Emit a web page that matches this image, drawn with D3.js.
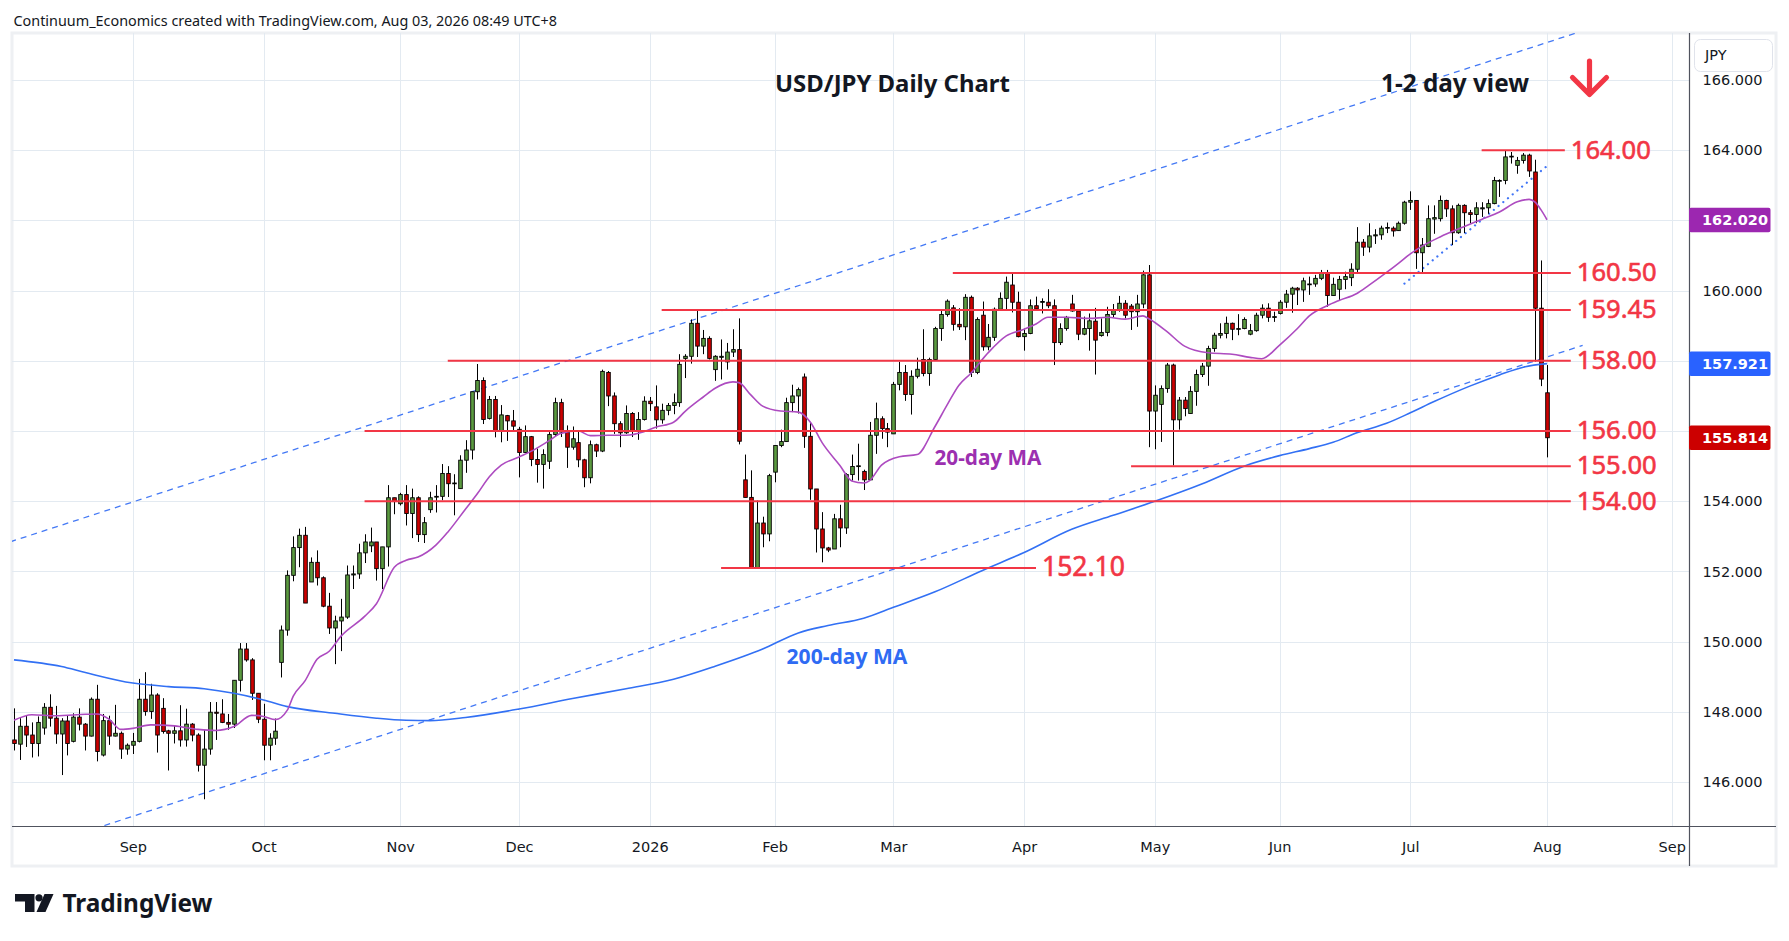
<!DOCTYPE html>
<html><head><meta charset="utf-8">
<script src="https://cdn.jsdelivr.net/npm/d3@7"></script>
<style>
html,body{margin:0;padding:0;background:#fff;}
svg{display:block;}
</style></head><body>
<svg id="chart" width="1789" height="941"></svg>
<script>
// ---------------- DATA ----------------
const firstDay = "2025-08-04";
const lastAxisDay = "2026-09-30";
const closedDays = ["12-25", "01-01"];

const open = [
147.2,147.08,147.59,147.34,147.1,147.54,148.13,147.82,147.37,147.74,
147.16,147.85,147.65,147.31,148.36,146.77,147.75,147.31,147.39,146.94,
147.05,147.16,148.36,148.01,148.48,148.1,147.46,147.39,147.46,147.2,
147.65,147.34,146.48,146.94,147.99,147.94,147.7,147.65,148.9,149.79,
149.48,148.53,147.79,147.05,147.25,149.41,150.33,151.89,152.68,153.03,
151.7,152.26,151.82,151.01,150.39,150.59,150.7,151.9,151.93,152.53,
152.73,152.84,152.08,152.7,154.1,153.93,154.19,153.65,154.1,153.05,
153.76,154.12,154.14,154.79,154.5,154.36,155.17,155.46,157.12,157.44,
156.36,156.9,156.0,156.44,156.29,156.05,155.39,155.84,155.19,155.05,
155.14,155.9,156.81,155.97,155.54,155.67,155.18,154.67,155.61,155.43,
157.67,157.0,156.21,155.95,156.5,156.0,156.33,156.85,156.69,156.32,
156.59,156.73,156.81,158.07,158.13,159.07,158.42,158.64,157.75,158.1,
157.97,158.25,158.32,154.61,154.11,152.11,153.38,153.07,154.83,155.59,
155.7,156.81,157.0,157.54,155.85,154.35,153.21,152.67,152.64,153.5,
153.24,154.76,154.99,154.85,154.61,155.88,156.35,156.07,155.92,157.33,
157.67,157.04,157.56,158.04,157.64,158.04,158.92,159.32,159.51,159.04,
158.97,159.81,157.67,159.3,158.4,158.67,159.47,159.78,160.16,159.67,
158.69,158.78,159.57,159.67,159.67,159.57,158.52,158.92,159.62,159.42,
158.76,158.92,159.13,158.72,158.81,159.32,159.45,159.64,159.56,159.4,
159.62,160.45,156.57,156.76,157.21,157.88,156.32,156.88,156.5,157.13,
157.61,157.85,158.35,158.73,158.78,159.07,158.9,158.92,158.76,158.86,
159.3,159.5,159.24,159.35,159.67,159.9,160.07,160.02,160.17,160.19,
160.35,160.51,159.86,160.04,160.32,160.37,160.61,161.38,161.24,161.56,
161.59,161.78,161.78,161.71,161.92,162.52,162.57,161.08,161.26,162.04,
162.05,162.57,162.33,161.65,162.43,162.22,162.17,162.33,162.36,162.48,
163.12,163.14,163.81,163.57,163.71,163.86,163.38,159.5,157.09];

const high = [
148.1,147.82,147.9,147.7,147.87,148.25,148.5,148.17,147.82,147.9,
147.96,148.1,147.68,148.41,148.77,147.94,147.89,148.2,147.44,147.1,
147.4,148.94,149.13,148.8,148.53,148.39,147.49,147.6,148.19,148.09,
147.68,147.39,147.49,148.28,148.28,148.36,147.94,148.9,149.96,149.96,
149.53,148.53,148.23,147.39,147.81,150.46,152.03,153.0,153.22,153.27,
152.4,152.6,151.86,151.39,150.74,151.22,152.17,152.17,152.79,153.06,
153.25,152.84,152.7,154.46,154.1,154.24,154.46,154.36,154.14,153.55,
154.27,154.46,155.06,155.0,154.77,155.31,155.74,157.12,157.91,157.53,
157.0,157.0,156.74,156.46,156.6,156.12,156.16,155.86,155.5,155.48,
155.97,156.95,156.92,156.16,156.13,155.99,155.21,155.73,155.64,157.75,
157.71,157.1,156.28,156.73,156.54,156.54,156.99,156.97,157.3,156.78,
156.8,157.07,158.19,158.19,159.18,159.45,158.88,158.7,158.16,158.61,
158.51,158.9,159.21,155.33,154.88,154.02,153.56,154.78,155.59,156.04,
156.95,157.32,157.24,157.64,156.26,154.35,153.69,152.7,153.64,153.9,
154.8,155.33,155.64,154.9,156.26,156.81,156.42,156.23,157.4,157.97,
157.88,157.73,158.09,158.9,158.09,158.97,159.45,159.75,159.59,159.5,
159.9,159.86,159.24,159.69,159.05,159.52,159.95,160.4,160.5,159.97,
158.92,159.75,159.83,159.78,160.04,159.75,159.07,159.28,159.88,159.45,
159.26,159.35,159.51,159.21,159.54,159.62,159.85,159.73,159.62,159.88,
160.57,160.73,157.3,157.3,157.94,157.92,156.97,156.97,157.28,157.75,
157.94,158.43,158.8,159.07,159.26,159.09,159.33,159.24,159.05,159.37,
159.61,159.64,159.4,159.73,160.02,160.11,160.1,160.37,160.4,160.45,
160.59,160.59,160.37,160.42,160.54,160.78,161.81,161.47,161.92,161.75,
161.85,161.94,161.83,161.97,162.56,162.83,162.57,161.5,162.43,162.43,
162.71,162.59,162.43,162.48,162.46,162.3,162.52,162.52,162.6,163.24,
163.17,163.98,163.95,163.81,163.92,163.9,163.73,160.86,157.88];

const low = [
146.9,146.63,147.0,146.7,146.73,147.35,147.58,147.09,146.2,146.76,
147.13,147.47,146.9,147.3,146.59,146.73,147.06,147.3,146.66,146.78,
146.8,147.13,147.89,147.8,146.84,147.38,146.33,147.1,147.01,147.01,
147.16,146.3,145.51,146.78,147.2,147.68,147.49,147.54,148.58,149.43,
148.34,147.68,146.62,146.62,147.06,148.98,150.17,151.72,152.12,151.1,
151.7,151.6,150.98,150.22,149.36,149.73,150.65,151.5,151.79,152.24,
152.55,151.74,151.5,152.14,153.63,153.88,153.31,152.95,152.84,152.81,
153.67,153.68,154.03,154.12,153.6,154.36,154.81,155.19,156.9,156.2,
156.33,155.82,155.68,155.72,155.98,154.68,155.38,155.0,154.53,154.36,
154.92,155.85,155.83,154.95,155.47,154.97,154.4,154.51,155.26,155.4,
156.71,155.92,155.54,155.92,155.83,155.75,156.3,156.57,156.07,156.21,
156.45,156.48,156.69,157.51,157.92,158.11,158.19,158.04,157.43,157.47,
157.75,158.11,155.62,154.11,152.09,152.11,152.69,152.86,154.54,155.54,
155.69,156.54,156.5,155.52,154.04,152.54,152.26,152.55,152.64,152.69,
153.07,154.59,154.59,154.32,154.61,155.35,155.78,155.54,155.92,157.16,
156.86,156.47,157.5,157.56,157.29,158.02,158.57,159.26,158.86,158.88,
158.59,157.54,157.62,158.29,158.3,158.57,159.45,159.45,159.38,158.67,
158.29,158.76,159.45,159.35,159.5,157.88,158.45,158.86,159.4,158.59,
158.73,158.29,157.61,158.69,158.7,159.24,159.4,159.21,158.88,158.97,
159.5,155.54,155.48,155.69,157.09,155.02,156.04,156.42,156.5,156.72,
157.54,157.29,158.26,158.64,158.64,158.59,158.73,158.9,158.73,158.83,
159.21,159.11,159.11,159.32,159.51,159.37,159.59,159.68,159.88,160.11,
160.3,159.54,159.85,159.73,160.04,160.13,160.5,160.99,161.09,161.33,
161.45,161.64,161.54,161.7,161.88,162.3,160.62,160.48,161.24,161.62,
161.97,162.1,161.3,161.62,161.64,161.92,161.92,162.1,162.19,162.46,
162.67,163.03,163.62,163.33,163.62,163.24,157.98,157.28,155.25];

const close = [
147.1,147.59,147.34,147.1,147.7,148.13,147.82,147.37,147.74,147.1,
147.85,147.65,147.31,148.36,146.87,147.75,147.31,147.39,146.94,147.05,
147.16,148.36,148.01,148.48,147.34,147.44,147.39,147.46,147.2,147.65,
147.34,146.48,146.94,147.99,147.96,147.7,147.65,148.9,149.79,149.48,
148.53,147.79,147.05,147.25,147.45,150.33,151.89,152.68,153.03,151.1,
152.26,151.82,151.01,150.39,150.59,150.7,151.9,151.93,152.53,152.84,
152.84,152.08,152.7,154.1,153.99,154.19,153.65,154.1,153.05,153.39,
154.1,154.14,154.79,154.5,154.52,155.17,155.46,157.12,157.44,156.33,
156.9,156.0,156.46,156.29,156.14,155.39,155.84,155.19,155.05,155.33,
155.9,156.81,155.97,155.54,155.78,155.18,154.67,155.61,155.43,157.7,
157.0,156.21,155.95,156.5,156.0,156.33,156.85,156.78,156.32,156.59,
156.73,156.81,157.9,158.13,159.07,158.42,158.64,158.07,158.13,158.13,
158.25,158.32,155.71,154.11,152.11,153.38,153.07,154.73,155.59,155.7,
156.81,157.0,157.18,155.85,154.35,153.21,152.67,152.61,153.5,153.24,
154.76,154.99,155.01,154.61,155.88,156.35,156.07,155.97,157.33,157.67,
157.04,157.56,157.76,157.64,158.04,158.92,159.32,159.7,159.04,158.97,
159.81,157.67,159.18,158.4,158.67,159.47,159.78,160.24,159.67,158.69,
158.78,159.57,159.48,159.69,159.57,158.52,158.92,159.24,159.42,158.76,
158.92,159.14,158.59,158.81,159.32,159.45,159.64,159.3,159.4,159.62,
160.45,156.57,157.02,157.21,157.88,156.32,156.88,156.64,157.13,157.61,
157.85,158.35,158.73,158.78,159.07,158.9,158.92,159.18,158.86,159.3,
159.5,159.24,159.26,159.67,159.9,160.07,160.02,160.28,160.19,160.35,
160.51,159.86,160.18,160.32,160.4,160.61,161.38,161.24,161.56,161.59,
161.78,161.8,161.7,161.92,162.52,162.57,161.08,161.3,162.05,162.08,
162.57,162.33,161.65,162.43,162.22,162.17,162.36,162.36,162.48,163.14,
163.14,163.81,163.83,163.71,163.86,163.41,159.5,157.48,155.81];

// 20-day MA: [bar number, value]
const ma20 = [[0,147.76],[3,147.92],[7,147.89],[12,147.93],[14,147.94],[16,147.79],[18,147.5],[20,147.53],
[23,147.63],[27,147.6],[31,147.5],[34,147.47],[37,147.58],[40,147.9],[42,147.87],[44,147.78],[46,148.05],
[47,148.45],[49,148.89],[51,149.5],[53,149.72],[55,150.15],[59,150.72],[61,151.08],[64,152.12],[66,152.32],
[68,152.41],[71,152.75],[73,153.12],[76,153.78],[78,154.22],[80,154.7],[82,155.03],[85,155.26],[87,155.42],
[90,155.72],[92,155.93],[95,156.0],[97,155.87],[100,155.88],[103,155.88],[106,155.98],[108,156.11],[111,156.25],
[113,156.57],[116,156.97],[118,157.22],[121,157.4],[122,157.38],[124,157.03],[126,156.71],[129,156.57],
[132,156.54],[134,156.26],[136,155.67],[139,155.02],[141,154.58],[143,154.52],[144,154.59],[146,155.03],
[149,155.27],[152,155.33],[155,156.13],[157,156.73],[159,157.3],[161,157.64],[164,158.24],[167,158.71],
[170,158.9],[172,159.05],[174,159.24],[177,159.24],[181,159.21],[184,159.24],[187,159.19],[190,159.28],
[191,159.2],[194,158.84],[197,158.42],[201,158.23],[205,158.19],[208,158.1],[210,158.06],[213,158.45],
[216,158.92],[218,159.28],[221,159.57],[223,159.72],[226,159.92],[228,160.15],[231,160.52],[233,160.78],
[235,161.05],[237,161.27],[240,161.53],[244,161.82],[247,162.03],[250,162.24],[253,162.53],[255,162.6],
[256,162.52],[257,162.3],[258,162.02]];

// 200-day MA: [bar number, value]
const ma200 = [[0,149.48],[8,149.29],[12,149.12],[20,148.82],[26,148.72],[32,148.66],[37,148.53],[42,148.34],
[46,148.15],[54,147.96],[61,147.82],[66,147.76],[70,147.75],[76,147.84],[85,148.08],[94,148.38],[103,148.66],
[111,148.93],[118,149.3],[126,149.79],[132,150.25],[137,150.46],[143,150.67],[148,150.98],[155,151.42],
[163,152.03],[170,152.54],[178,153.2],[185,153.6],[192,154.0],[200,154.5],[207,155.0],[213,155.3],[218,155.5],
[222,155.68],[226,155.95],[231,156.22],[235,156.52],[239,156.84],[245,157.28],[250,157.6],[254,157.82],[258,157.92]];

// Horizontal levels: value, first bar, last bar
const levelValues = [164.00, 160.50, 159.45, 158.00, 156.00, 155.00, 154.00, 152.10];
const levelFrom   = [247, 158, 109, 73, 59, 188, 59, 119];
const levelTo     = [261, 262, 262, 262, 262, 262, 262, 172];

// Trend lines (anchor bar, anchor price); channel lines run to bar 264
const channelUpper = [[0,152.88],[258,167.07]];
const channelLower = [[53,146.84],[258,158.11]];
const channelEnd = 264;
const shortTrend   = [[234,160.2],[258,163.55]];

const priceTicks = [146,148,150,152,154,156,158,160,162,164,166];
const monthLabels = ["Sep","Oct","Nov","Dec","2026","Feb","Mar","Apr","May","Jun","Jul","Aug","Sep"];
const lastValues = [{v:162.02, c:"#9c27b0"},{v:157.921, c:"#2962ff"},{v:155.814, c:"#cc0000"}];

// ---------------- BUILD ----------------
const parse = d3.utcParse("%Y-%m-%d");
const fmtMD = d3.utcFormat("%m-%d");
const days = d3.utcDay.range(parse(firstDay), d3.utcDay.offset(parse(lastAxisDay),1))
  .filter(d => d.getUTCDay()!==0 && d.getUTCDay()!==6 && !closedDays.includes(fmtMD(d)));
const nBars = close.length;
const bars = d3.range(nBars).map(i => ({i, date: days[i], o:open[i], h:high[i], l:low[i], c:close[i]}));

const monthIdx = [];
days.forEach((d,i) => { if (i>0 && d.getUTCMonth()!==days[i-1].getUTCMonth()) monthIdx.push(i); });

const L = 12, R = 1689, T = 33, B = 826;
const x = d3.scaleLinear().domain([0, nBars-1]).range([14, 1547]);
const y = d3.scaleLinear().domain([144.72, 167.34]).range([827, 33]);

const svg = d3.select("#chart");
const FONT = "'DejaVu Sans', Verdana, sans-serif";
const NOTO = "'Noto Sans', 'Liberation Sans', Arial, sans-serif";

svg.append("rect").attr("width",1789).attr("height",941).attr("fill","#fff");

function fit(sel, w){ const n=sel.node(); const fs=parseFloat(sel.attr("font-size")); const m=n.getComputedTextLength(); if(m>0) sel.attr("font-size", fs*w/m); return sel; }

// header
fit(svg.append("text").attr("x",13.5).attr("y",26).attr("font-family",NOTO).attr("font-size",15)
  .attr("fill","#131722").text("Continuum_Economics created with TradingView.com, Aug 03, 2026 08:49 UTC+8"), 544);

// frame
svg.append("rect").attr("x",L).attr("y",T).attr("width",1776-L).attr("height",866-T)
  .attr("fill","none").attr("stroke","#eef0f3").attr("stroke-width",3);

const defs = svg.append("defs");
defs.append("clipPath").attr("id","plot").append("rect").attr("x",L).attr("y",T).attr("width",R-L).attr("height",B-T);

// grid
const grid = svg.append("g").attr("stroke","#e3eaf1").attr("stroke-width",1).attr("shape-rendering","crispEdges");
grid.selectAll(".h").data(priceTicks).join("line").attr("x1",L).attr("x2",R)
  .attr("y1",d=>Math.round(y(d))+0.5).attr("y2",d=>Math.round(y(d))+0.5);
grid.selectAll(".v").data(monthIdx).join("line").attr("y1",T).attr("y2",B)
  .attr("x1",d=>Math.round(x(d))+0.5).attr("x2",d=>Math.round(x(d))+0.5);

const plot = svg.append("g").attr("clip-path","url(#plot)");

// channel lines (extended to the left, ending at channelEnd)
function extend(a){ const s=(a[1][1]-a[0][1])/(a[1][0]-a[0][0]); return [[-20, a[0][1]+s*(-20-a[0][0])],[channelEnd, a[0][1]+s*(channelEnd-a[0][0])]]; }
const lineGen = d3.line().x(d=>x(d[0])).y(d=>y(d[1]));
[channelUpper, channelLower].forEach(c => {
  plot.append("path").attr("d", lineGen(extend(c))).attr("fill","none")
    .attr("stroke","#4479f5").attr("stroke-width",1.3).attr("stroke-dasharray","6,5");
});
plot.append("path").attr("d", lineGen(shortTrend)).attr("fill","none")
  .attr("stroke","#3f74f6").attr("stroke-width",2.2).attr("stroke-linecap","round").attr("stroke-dasharray","0.1,6");

// candles
const cg = plot.append("g");
cg.selectAll("line").data(bars).join("line")
  .attr("x1",d=>Math.round(x(d.i))+0.5).attr("x2",d=>Math.round(x(d.i))+0.5)
  .attr("y1",d=>y(d.h)).attr("y2",d=>y(d.l)).attr("stroke","#000").attr("stroke-width",1);
cg.selectAll("rect").data(bars).join("rect")
  .attr("x",d=>Math.round(x(d.i))+0.5-1.8).attr("width",3.6)
  .attr("y",d=>y(Math.max(d.o,d.c)))
  .attr("height",d=>Math.max(0.8, Math.abs(y(d.o)-y(d.c))))
  .attr("fill",d=>d.c>=d.o?"#5b9a40":"#cc0000")
  .attr("stroke","#000").attr("stroke-width",0.9);

// moving averages
const maLine = d3.line().x(d=>x(d[0])).y(d=>y(d[1])).curve(d3.curveMonotoneX);
plot.append("path").attr("d",maLine(ma200)).attr("fill","none").attr("stroke","#3270f4").attr("stroke-width",1.6);
plot.append("path").attr("d",maLine(ma20)).attr("fill","none").attr("stroke","#ad4bc0").attr("stroke-width",1.6);

// levels
const lv = svg.append("g");
levelValues.forEach((v,k) => {
  const yy = y(v);
  lv.append("line").attr("x1",x(levelFrom[k])).attr("x2",x(levelTo[k])).attr("y1",yy).attr("y2",yy)
    .attr("stroke","#f23645").attr("stroke-width",2);
  const t = lv.append("text").attr("x",x(levelTo[k])+6).attr("y",yy+8.3)
    .attr("font-family",NOTO).attr("font-size",24).attr("fill","#f23645")
    .attr("stroke","#f23645").attr("stroke-width",0.6).text(v.toFixed(2));
  fit(t, v===152.10 ? 83 : 80);
});

// annotations
fit(svg.append("text").attr("x",775).attr("y",92).attr("font-family",NOTO).attr("font-weight","bold")
  .attr("font-size",25).attr("fill","#131722").text("USD/JPY Daily Chart"), 235);
fit(svg.append("text").attr("x",1381).attr("y",91.7).attr("font-family",NOTO).attr("font-weight","bold")
  .attr("font-size",25).attr("fill","#131722").text("1-2 day view"), 148);
fit(svg.append("text").attr("x",934.5).attr("y",465).attr("font-family",NOTO).attr("font-weight","bold")
  .attr("font-size",22).attr("fill","#9c30b0").text("20-day MA"), 107);
fit(svg.append("text").attr("x",786.5).attr("y",663.5).attr("font-family",NOTO).attr("font-weight","bold")
  .attr("font-size",22).attr("fill","#2f6bf3").text("200-day MA"), 121);
svg.append("path").attr("d","M1589.5,61 L1589.5,94 M1572.5,77.5 L1589.5,94.5 L1606.5,77.5")
  .attr("fill","none").attr("stroke","#f23645").attr("stroke-width",5.2)
  .attr("stroke-linecap","round").attr("stroke-linejoin","round");

// axes (tick labels hidden where a last-value badge covers them)
const covered = v => lastValues.some(b => Math.abs(y(b.v) - y(v)) < 14);
const yAxis = svg.append("g").attr("transform",`translate(${R},0)`)
  .call(d3.axisRight(y).tickValues(priceTicks.filter(v => !covered(v))).tickFormat(d3.format(".3f")).tickSize(0).tickPadding(13.5));
yAxis.select(".domain").remove();
yAxis.selectAll("text").attr("font-family",FONT).attr("font-size",14.5).attr("fill","#131722");

const xAxis = svg.append("g").attr("transform",`translate(0,${B})`)
  .call(d3.axisBottom(x).tickValues(monthIdx).tickFormat((d,i)=>monthLabels[i]).tickSize(0).tickPadding(15.5));
xAxis.select(".domain").remove();
xAxis.selectAll("text").attr("font-family",FONT).attr("font-size",14.5).attr("fill","#131722");

svg.append("line").attr("x1",L).attr("x2",1776).attr("y1",B+0.5).attr("y2",B+0.5).attr("stroke","#50535e").attr("stroke-width",1.2);
svg.append("line").attr("x1",R+0.5).attr("x2",R+0.5).attr("y1",T).attr("y2",866).attr("stroke","#50535e").attr("stroke-width",1.2);

// currency box
svg.append("rect").attr("x",1694.5).attr("y",39.5).attr("width",78).attr("height",32).attr("rx",6)
  .attr("fill","#fff").attr("stroke","#e0e3eb");
svg.append("text").attr("x",1705).attr("y",60).attr("font-family",FONT).attr("font-size",14.5).attr("fill","#131722").text("JPY");

// last value badges
lastValues.forEach(b => {
  const yy = y(b.v);
  svg.append("rect").attr("x",R).attr("y",yy-12).attr("width",81.5).attr("height",24.5).attr("rx",2).attr("fill",b.c);
  svg.append("text").attr("x",1702).attr("y",yy).attr("dy","0.36em").attr("font-family",FONT).attr("font-weight","bold")
    .attr("font-size",14.5).attr("fill","#fff").text(b.v.toFixed(3));
});

// TradingView logo
const lg = svg.append("g").attr("fill","#131722");
lg.append("path").attr("d","M15,894 H34.5 V912 H25 V901.5 H15 Z");
lg.append("circle").attr("cx",39).attr("cy",897.8).attr("r",3.6);
lg.append("path").attr("d","M44.5,894 H53.5 L45.5,912 H36.5 Z");
fit(lg.append("text").attr("x",62.5).attr("y",911.5).attr("font-family",NOTO).attr("font-weight","bold")
  .attr("font-size",24).text("TradingView"), 150);
</script>
</body></html>
